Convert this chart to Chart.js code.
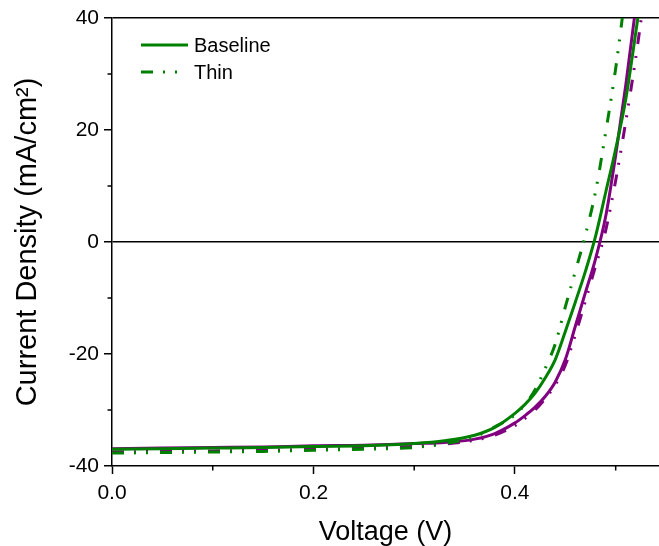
<!DOCTYPE html>
<html><head><meta charset="utf-8">
<script src="https://cdn.jsdelivr.net/npm/chart.js@4/dist/chart.umd.min.js"></script>
<style>html,body{margin:0;padding:0;background:#fff;overflow:hidden}</style>
</head><body>
<canvas id="c" width="659" height="546"></canvas>
<script>
// ---- data ----
const voltage = [0, 0.05, 0.10, 0.15, 0.20, 0.25, 0.30, 0.33, 0.36, 0.38, 0.40, 0.41, 0.42, 0.43, 0.44, 0.45, 0.46, 0.47, 0.48, 0.49, 0.50, 0.51, 0.52, 0.53];
const baselineGreen = [-37.0, -36.9, -36.8, -36.7, -36.5, -36.4, -36.0, -35.5, -34.5, -33.1, -30.6, -29.0, -27.0, -24.3, -21.0, -16.0, -10.7, -5.2, 1.0, 8.8, 16.6, 25.5, 37.5, 50.0];
const thinGreen     = [-37.7, -37.6, -37.5, -37.4, -37.2, -37.0, -36.7, -36.0, -34.8, -33.0, -30.9, -29.0, -26.4, -22.6, -18.2, -11.6, -5.2, 1.3, 9.0, 19.5, 31.0, 45.0, 60.0, 75.0];
const baselinePurple = [-36.9, -36.8, -36.7, -36.6, -36.4, -36.3, -36.0, -35.8, -35.2, -34.2, -32.3, -31.0, -29.5, -27.6, -25.0, -21.0, -15.0, -9.0, -3.0, 4.5, 15.5, 28.0, 42.0, 58.0];
const thinPurple     = [-37.5, -37.4, -37.3, -37.2, -37.0, -36.8, -36.5, -36.1, -35.4, -34.5, -32.8, -31.5, -30.0, -28.0, -25.5, -22.0, -16.5, -10.5, -4.3, 2.0, 11.0, 21.5, 33.0, 46.0];
const seriesLabels = ['Baseline', 'Thin', 'Baseline (2)', 'Thin (2)'];
const xTickLabels = ['0.0', '0.2', '0.4'];
const yTickLabels = ['-40', '-20', '0', '20', '40'];
const xMinor = [0.1, 0.3, 0.5];
const yMinor = [-30, -10, 10, 30];

const GREEN = '#008000', PURPLE = '#800080';
const DASH = [12, 10, 2, 10, 2, 12];
const FONT = "'Liberation Sans', Arial, sans-serif";

function pts(ys){ return voltage.map((v,i)=>({x:v, y:ys[i]})); }
function ds(label, ys, color, dash){
  return {label, data: pts(ys), borderColor: color, backgroundColor: color,
    borderWidth: 3, borderDash: dash, pointRadius: 0, tension: 0,
    cubicInterpolationMode: 'monotone', showLine: true, fill: false};
}

const inlineLegend = {
  id: 'inlineLegend',
  afterDraw(chart){
    const ctx = chart.ctx;
    const xs = chart.scales.x, ys = chart.scales.y;
    ctx.save();
    ctx.strokeStyle = '#000'; ctx.lineWidth = 1.5; ctx.setLineDash([]);
    xMinor.forEach(v => { const px = xs.getPixelForValue(v); ctx.beginPath(); ctx.moveTo(px, xs.top); ctx.lineTo(px, xs.top + 4.5); ctx.stroke(); });
    yMinor.forEach(v => { const py = ys.getPixelForValue(v); ctx.beginPath(); ctx.moveTo(ys.right, py); ctx.lineTo(ys.right - 4.5, py); ctx.stroke(); });
    const x0 = chart.chartArea.left + 29, lw = 47;
    [0,1].forEach((i, k) => {
      const d = chart.data.datasets[i];
      const y = chart.chartArea.top + 27 + k * 27;
      ctx.strokeStyle = d.borderColor; ctx.lineWidth = d.borderWidth;
      ctx.setLineDash(d.borderDash || []);
      ctx.beginPath(); ctx.moveTo(x0, y); ctx.lineTo(x0 + lw, y); ctx.stroke();
      ctx.setLineDash([]);
      ctx.fillStyle = '#000'; ctx.font = '20px ' + FONT; ctx.textBaseline = 'middle'; ctx.textAlign = 'left';
      ctx.fillText(d.label, x0 + lw + 6, y + 1);
    });
    ctx.restore();
  }
};

new Chart(document.getElementById('c'), {
  type: 'scatter',
  data: { datasets: [
    ds(seriesLabels[0], baselineGreen, GREEN, []),
    ds(seriesLabels[1], thinGreen, GREEN, DASH),
    ds(seriesLabels[2], baselinePurple, PURPLE, []),
    ds(seriesLabels[3], thinPurple, PURPLE, DASH)
  ]},
  options: {
    responsive: false, animation: false, devicePixelRatio: 1,
    layout: { padding: { top: 18, right: 0, left: 0, bottom: 0 } },
    plugins: { legend: { display: false }, tooltip: { enabled: false } },
    scales: {
      x: {
        type: 'linear', min: 0, max: 0.543, position: 'bottom',
        afterFit: s => { s.height = 80; },
        border: { color: '#000', width: 1.5 },
        grid: { drawOnChartArea: false, drawTicks: true, tickLength: 8, tickWidth: 1.5,
          tickColor: c => (c.tick && xTickLabels.includes(c.tick.value.toFixed(1))) ? '#000' : 'rgba(0,0,0,0)' },
        ticks: { stepSize: 0.1, includeBounds: false, autoSkip: false, maxRotation: 0, padding: 7,
          color: '#000', font: { family: FONT, size: 21 },
          callback: v => { const s = Number(v).toFixed(1); return xTickLabels.includes(s) ? s : ''; } },
        title: { display: true, text: 'Voltage (V)', color: '#000', font: { family: FONT, size: 27 }, padding: { top: 0, bottom: -3 } }
      },
      y: {
        type: 'linear', min: -40, max: 40,
        afterFit: s => { s.width = 112; },
        border: { color: '#000', width: 1.5 },
        grid: { drawOnChartArea: true, drawTicks: true, tickLength: 8, tickWidth: 1.5, lineWidth: 1.5,
          color: c => (c.tick && (c.tick.value === 0 || c.tick.value === 40)) ? '#000' : 'rgba(0,0,0,0)',
          tickColor: c => (c.tick && yTickLabels.includes(String(c.tick.value))) ? '#000' : 'rgba(0,0,0,0)' },
        ticks: { stepSize: 10, autoSkip: false, padding: 5, color: '#000', font: { family: FONT, size: 21 },
          callback: v => yTickLabels.includes(String(v)) ? String(v) : '' },
        title: { display: true, text: 'Current Density (mA/cm²)', color: '#000', font: { family: FONT, size: 29 }, padding: { top: 11, bottom: 0 } }
      }
    }
  },
  plugins: [inlineLegend]
});
</script>
</body></html>
